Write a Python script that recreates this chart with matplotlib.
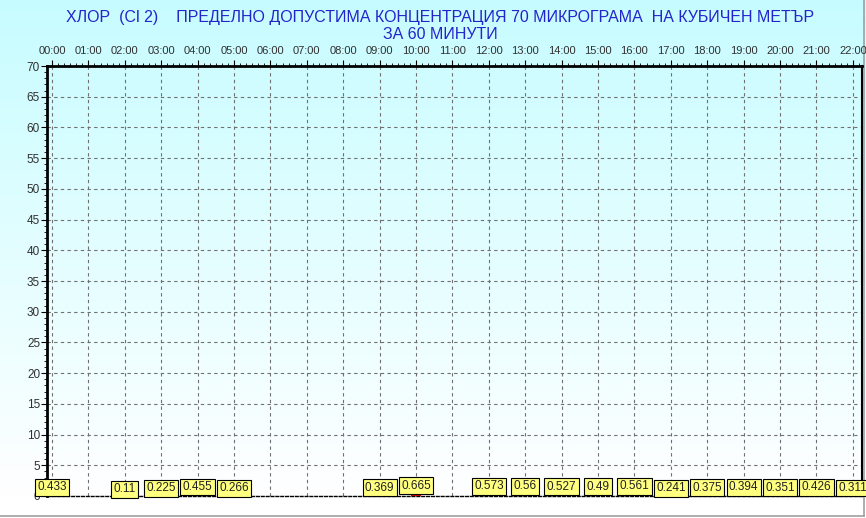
import numpy as np
import matplotlib.pyplot as plt
from matplotlib.ticker import MultipleLocator

plt.rcParams['font.family'] = ['Liberation Sans', 'DejaVu Sans']

# часове с измерване и стойности (µg/m3)
hours = [0, 2, 3, 4, 5, 9, 10, 12, 13, 14, 15, 16, 17, 18, 19, 20, 21, 22]
values = [0.433, 0.11, 0.225, 0.455, 0.266, 0.369, 0.665, 0.573, 0.56, 0.527,
          0.49, 0.561, 0.241, 0.375, 0.394, 0.351, 0.426, 0.311]
hour_labels = [f"{h:02d}:00" for h in range(23)]
title = ("ХЛОР  (Cl 2)    ПРЕДЕЛНО ДОПУСТИМА КОНЦЕНТРАЦИЯ 70 МИКРОГРАМА  НА КУБИЧЕН МЕТЪР\n"
         "ЗА 60 МИНУТИ")

fig = plt.figure(figsize=(8.66, 5.18), dpi=100)

# фон - градиент от светло синьо към бяло
bg = fig.add_axes([0, 0, 1, 1], zorder=-10)
grad = np.linspace(0, 1, 256).reshape(-1, 1)
top = np.array([0.78, 0.99, 1.0])
bot = np.array([1.0, 1.0, 1.0])
t = np.clip(grad / 0.96, 0, 1)
img = top + (bot - top) * t[..., None]
bg.imshow(img, aspect='auto', extent=[0, 1, 0, 1])
bg.plot([0, 0.9975], [0.004, 0.004], color='#a0a0a0', lw=1.2)
bg.plot([0.9975, 0.9975], [0.004, 1], color='#a0a0a0', lw=1.2)
bg.set_xlim(0, 1)
bg.set_ylim(0, 1)
bg.axis('off')

ax = fig.add_axes([0.0543, 0.0425, 0.941, 0.830])
ax.patch.set_alpha(0)
ax.bar(hours, values, width=0.3, color='#cc0000', zorder=3)

for h, v in zip(hours, values):
    ax.text(h, v + 1.0, str(v), ha='center', va='center', fontsize=8.5, color='#202020',
            zorder=5, bbox=dict(boxstyle='square,pad=0.2', fc='#ffff80', ec='black', lw=0.8))

ax.set_xlim(-0.137, 22.25)
ax.set_ylim(0, 70)
ax.xaxis.tick_top()
ax.set_xticks(range(23))
ax.set_xticklabels(hour_labels, fontsize=8, color='#303030')
ax.xaxis.set_minor_locator(MultipleLocator(1 / 6))
ax.set_yticks(range(0, 71, 5))
ax.yaxis.set_minor_locator(MultipleLocator(1))
ax.tick_params(axis='y', labelsize=8.5, labelcolor='#303030', length=4, width=0.8, pad=1)
ax.tick_params(axis='x', length=4, width=0.8, pad=3)
ax.tick_params(which='minor', length=2, width=0.6)
ax.grid(True, linestyle=(0, (3, 3)), color='#707070', lw=0.8)

for s in ['left', 'top']:
    ax.spines[s].set_linewidth(2)
ax.spines['right'].set_linewidth(1.5)
ax.spines['bottom'].set_linestyle((0, (2, 1.5)))
ax.spines['bottom'].set_linewidth(1)

fig.text(0.508, 0.98, title, ha='center', va='top', fontsize=11.5, color='#2424cc',
         linespacing=1.15)

fig.savefig('out.png', dpi=100)
